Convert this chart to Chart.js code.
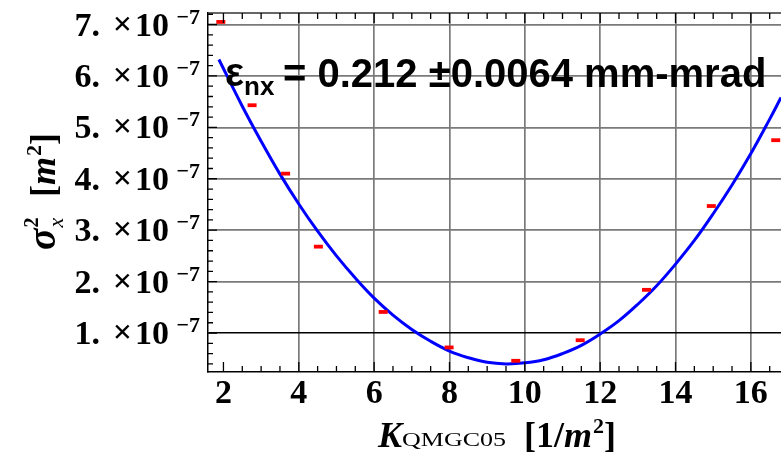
<!DOCTYPE html>
<html><head><meta charset="utf-8">
<script src="https://cdn.jsdelivr.net/npm/chart.js@4.4.0/dist/chart.umd.min.js"></script>
<style>html,body{margin:0;padding:0;background:#fff;}canvas{display:block;}</style>
</head><body>
<canvas id="c" width="781" height="467"></canvas>
<script>
// ---- data ----
const kValues      = [1.93, 2.76, 3.65, 4.52, 6.24, 7.99, 9.76, 11.47, 13.23, 14.95, 16.66];
const sigma2Values = [7.05e-7, 5.43e-7, 4.10e-7, 2.68e-7, 1.41e-7, 0.72e-7, 0.46e-7, 0.86e-7, 1.84e-7, 3.47e-7, 4.75e-7];
const fitK      = [1.88, 2.5, 3.0, 3.5, 4.0, 4.5, 5.0, 5.5, 6.0, 6.5, 7.0, 7.5, 8.0, 8.5, 9.0, 9.5, 10.0, 10.5, 11.0, 11.5, 12.0, 12.5, 13.0, 13.5, 14.0, 14.5, 15.0, 15.5, 16.0, 16.5, 16.8];
const fitSigma2 = [6.32e-7, 5.41e-7, 4.73e-7, 4.09e-7, 3.51e-7, 2.98e-7, 2.50e-7, 2.07e-7, 1.68e-7, 1.35e-7, 1.07e-7, 0.84e-7, 0.65e-7, 0.52e-7, 0.43e-7, 0.40e-7, 0.42e-7, 0.48e-7, 0.60e-7, 0.76e-7, 0.98e-7, 1.24e-7, 1.56e-7, 1.92e-7, 2.34e-7, 2.80e-7, 3.32e-7, 3.88e-7, 4.49e-7, 5.16e-7, 5.58e-7];
const xTickValues = [2, 4, 6, 8, 10, 12, 14, 16];
const xTickLabels = ['2', '4', '6', '8', '10', '12', '14', '16'];
const yTickValues = [1e-7, 2e-7, 3e-7, 4e-7, 5e-7, 6e-7, 7e-7];
const yTickLabels = ['1.×10^−7', '2.×10^−7', '3.×10^−7', '4.×10^−7', '5.×10^−7', '6.×10^−7', '7.×10^−7'];
const annotationSymbol = 'ε';
const annotationSub = 'nx';
const annotationText = '= 0.212 ±0.0064 mm-mrad';
const xTitleMain = 'K', xTitleSub = 'QMGC05', xTitleUnit = ['[1/', 'm', '2', ']'];
const yTitleMain = 'σ', yTitleSub = 'x', yTitleSup = '2', yTitleUnit = ['[', 'm', '2', ']'];

const SERIF = '"Liberation Serif", "Times New Roman", serif';
const SANS = '"Liberation Sans", Arial, sans-serif';
const GRID = '#7a7a7a';

const near = (a, b, eps) => Math.abs(a - b) < eps;

const decorPlugin = {
  id: 'decor',
  afterDraw(chart) {
    const {ctx, chartArea: a, scales: {x, y}} = chart;
    ctx.save();
    // top frame
    ctx.strokeStyle = '#333'; ctx.lineWidth = 1.5;
    ctx.beginPath(); ctx.moveTo(a.left, a.top); ctx.lineTo(a.right, a.top); ctx.stroke();
    // inward ticks
    ctx.strokeStyle = '#000'; ctx.lineWidth = 1.3;
    ctx.beginPath();
    for (let i = Math.ceil(x.min * 2); i / 2 <= x.max; i++) {
      const px = x.getPixelForValue(i / 2);
      const len = (i % 4 === 0) ? 10 : 6;
      ctx.moveTo(px, a.bottom); ctx.lineTo(px, a.bottom - len);
      ctx.moveTo(px, a.top); ctx.lineTo(px, a.top + len);
    }
    for (let i = Math.ceil(y.min / 2e-8 - 1e-6); i * 2e-8 <= y.max + 1e-12; i++) {
      const py = y.getPixelForValue(i * 2e-8);
      const len = (i % 5 === 0) ? 9 : 5;
      ctx.moveTo(a.left, py); ctx.lineTo(a.left + len, py);
    }
    ctx.stroke();

    ctx.fillStyle = '#000';
    ctx.textBaseline = 'alphabetic';
    // y tick labels: "7." "×" "10" + superscript exponent
    yTickValues.forEach((v, i) => {
      const py = y.getPixelForValue(v);
      const [main, exp] = yTickLabels[i].split('^');
      const [mant, base10] = main.split('×');
      const right = a.left - 8;
      ctx.textAlign = 'right';
      ctx.font = 'bold 22px ' + SERIF;
      ctx.fillText(exp, right, py - 1);
      ctx.font = 'bold 34px ' + SERIF;
      ctx.fillText(base10, right - 31, py + 11);
      ctx.fillText('×', right - 68, py + 10);
      ctx.fillText(mant, right - 100, py + 11);
    });
    ctx.textAlign = 'left';

    // x axis title
    let cx = a.left + 170, base = 447;
    ctx.font = 'italic bold 36px ' + SERIF;
    ctx.fillText(xTitleMain, cx, base);
    cx += ctx.measureText(xTitleMain).width;
    ctx.font = '19px ' + SERIF;
    const sw = ctx.measureText(xTitleSub).width;
    ctx.save(); ctx.translate(cx, base - 1); ctx.scale(104 / sw, 1);
    ctx.fillText(xTitleSub, 0, 0); ctx.restore();
    cx = a.left + 316;
    const unitFonts = ['bold 36px ', 'italic bold 36px ', 'bold 22px ', 'bold 36px '];
    const unitDy = [0, 0, -14, 0];
    xTitleUnit.forEach((t, i) => {
      ctx.font = unitFonts[i] + SERIF;
      ctx.fillText(t, cx, base + unitDy[i]);
      cx += ctx.measureText(t).width + (i === 1 ? 1 : 0);
    });

    // y axis title (rotated)
    ctx.save();
    ctx.translate(55, 250);
    ctx.rotate(-Math.PI / 2);
    ctx.font = 'italic bold 40px ' + SERIF;
    ctx.fillText(yTitleMain, 0, 0);
    let tx = ctx.measureText(yTitleMain).width + 1;
    ctx.font = 'italic 22px ' + SERIF;
    ctx.fillText(yTitleSub, tx, 8);
    ctx.font = 'bold 20px ' + SERIF;
    ctx.fillText(yTitleSup, tx, -17);
    tx = 53;
    yTitleUnit.forEach((t, i) => {
      ctx.font = unitFonts[i] + SERIF;
      ctx.fillText(t, tx, unitDy[i]);
      tx += ctx.measureText(t).width + (i === 1 ? 1 : 0);
    });
    ctx.restore();

    // annotation
    ctx.font = 'bold 40px ' + SANS;
    ctx.fillText(annotationSymbol, a.left + 17, a.top + 73);
    ctx.font = 'bold 26px ' + SANS;
    ctx.fillText(annotationSub, a.left + 36, a.top + 82);
    ctx.font = 'bold 40px ' + SANS;
    ctx.fillText(annotationText, a.left + 75, a.top + 74);
    ctx.restore();
  }
};

new Chart(document.getElementById('c'), {
  type: 'scatter',
  data: {
    datasets: [
      {
        label: 'measured',
        data: kValues.map((k, i) => ({x: k, y: sigma2Values[i]})),
        pointStyle: 'line',
        pointRadius: 4.5,
        pointBorderWidth: 3.8,
        borderColor: '#ff0000',
        backgroundColor: '#ff0000'
      },
      {
        label: 'fit',
        type: 'line',
        data: fitK.map((k, i) => ({x: k, y: fitSigma2[i]})),
        borderColor: '#0000ff',
        borderWidth: 3,
        pointRadius: 0,
        tension: 0.4,
        fill: false
      }
    ]
  },
  options: {
    responsive: false,
    animation: false,
    devicePixelRatio: 1,
    layout: {autoPadding: false, padding: {top: 13, right: 0, left: 0, bottom: 0}},
    plugins: {legend: {display: false}, tooltip: {enabled: false}},
    scales: {
      x: {
        type: 'linear',
        min: 1.59,
        max: 16.8,
        afterBuildTicks: (s) => { s.ticks = xTickValues.map(v => ({value: v})); },
        afterFit: (s) => { s.height = 95; s.paddingLeft = 0; s.paddingRight = 0; },
        ticks: {
          callback: (v) => { const i = xTickValues.indexOf(v); return i >= 0 ? xTickLabels[i] : ''; },
          font: {family: SERIF, size: 34, weight: 'bold'},
          color: '#000',
          padding: 2,
          maxRotation: 0,
          autoSkip: false
        },
        grid: {
          drawTicks: false,
          lineWidth: 1.7,
          color: (c) => (c.tick && near(c.tick.value, 2, 1e-9)) ? 'rgba(0,0,0,0)' : GRID
        },
        border: {color: '#000', width: 1.5}
      },
      y: {
        type: 'linear',
        min: 0.242e-7,
        max: 7.224e-7,
        afterBuildTicks: (s) => { s.ticks = yTickValues.map(v => ({value: v})); },
        afterFit: (s) => { s.width = 208; s.paddingTop = 0; s.paddingBottom = 0; },
        ticks: {display: false},
        grid: {
          drawTicks: false,
          lineWidth: (c) => (c.tick && near(c.tick.value, 1e-7, 1e-12)) ? 1.4 : 1.7,
          color: (c) => (c.tick && near(c.tick.value, 1e-7, 1e-12)) ? '#000' : GRID
        },
        border: {color: '#000', width: 1.5}
      }
    }
  },
  plugins: [decorPlugin]
});
</script>
</body></html>
